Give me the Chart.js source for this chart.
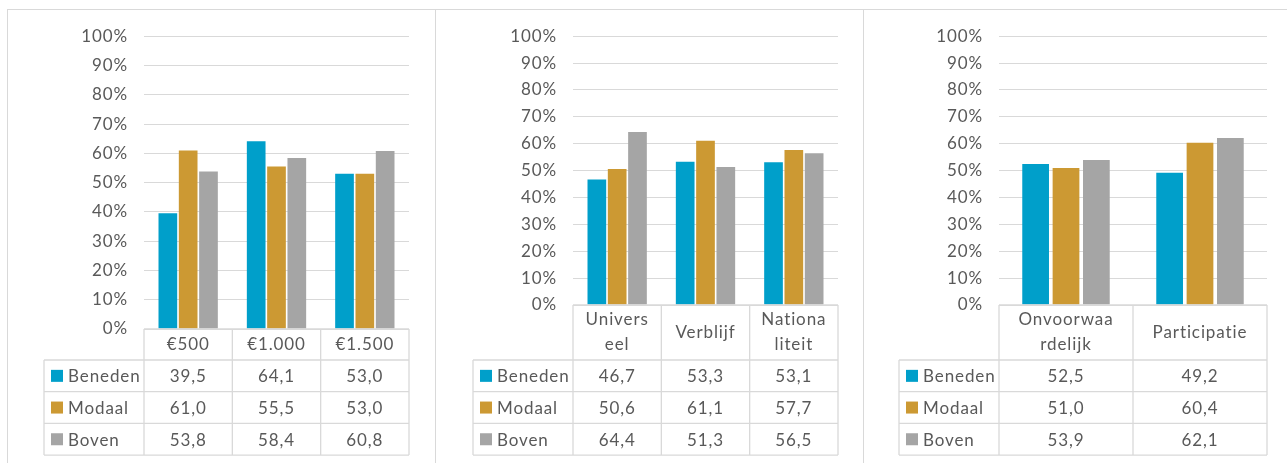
<!DOCTYPE html>
<html><head><meta charset="utf-8">
<script src="https://cdn.jsdelivr.net/npm/chart.js@4.4.1/dist/chart.umd.min.js"></script>
<style>
html,body{margin:0;padding:0;background:#fff;width:1287px;height:463px;overflow:hidden;}
.panel{position:absolute;top:9px;height:453px;border-left:1px solid #D9D9D9;border-top:1px solid #D9D9D9;}
canvas{display:block;}
</style></head><body>
<div class="panel" style="left:7px;width:428px"><canvas id="c1" width="428" height="453"></canvas></div>
<div class="panel" style="left:435px;width:428px"><canvas id="c2" width="428" height="453"></canvas></div>
<div class="panel" style="left:863px;width:424px;border-right:none"><canvas id="c3" width="423" height="453"></canvas></div>
<script>
// ---- data ----
const seriesNames = ['Beneden', 'Modaal', 'Boven'];
const seriesColors = ['#009FCA', '#CC9933', '#A5A5A5'];
const yTicks = [0, 10, 20, 30, 40, 50, 60, 70, 80, 90, 100];

const cats1 = ['€500', '€1.000', '€1.500'];
const beneden1 = [39.5, 64.1, 53.0];
const modaal1 = [61.0, 55.5, 53.0];
const boven1 = [53.8, 58.4, 60.8];

const cats2 = [['Univers', 'eel'], 'Verblijf', ['Nationa', 'liteit']];
const beneden2 = [46.7, 53.3, 53.1];
const modaal2 = [50.6, 61.1, 57.7];
const boven2 = [64.4, 51.3, 56.5];

const cats3 = [['Onvoorwaa', 'rdelijk'], 'Participatie'];
const beneden3 = [52.5, 49.2];
const modaal3 = [51.0, 60.4];
const boven3 = [53.9, 62.1];

// ---- styling ----
const FONT = 'Lato, "Open Sans", sans-serif';
const FS = 17;
const TXT = '#595959';
const LINE = '#D9D9D9';
const SPACING = '0.9px';

const spacingPlugin = {
  id: 'spacing',
  beforeDraw(chart) { chart.ctx.letterSpacing = SPACING; }
};

const tablePlugin = {
  id: 'dataTable',
  afterDraw(chart, args, opts) {
    const ctx = chart.ctx;
    const x = chart.scales.x;
    const ca = chart.chartArea;
    const n = chart.data.labels.length;
    const step = x.getPixelForValue(1) - x.getPixelForValue(0);
    const edges = [];
    for (let i = 0; i < n; i++) edges.push(x.getPixelForValue(i) - step / 2);
    edges.push(x.getPixelForValue(n - 1) + step / 2);
    const top = ca.bottom;
    const hdrBottom = opts.rowsTop;
    const rowH = opts.rowH;
    const legLeft = ca.left - opts.legendW;
    const nRows = chart.data.datasets.length;
    const bottom = hdrBottom + rowH * nRows;

    ctx.save();
    ctx.letterSpacing = SPACING;
    ctx.strokeStyle = LINE;
    ctx.lineWidth = 1.3;
    ctx.beginPath();
    ctx.moveTo(edges[0], top); ctx.lineTo(edges[n], top);
    ctx.moveTo(legLeft, hdrBottom); ctx.lineTo(edges[n], hdrBottom);
    for (let r = 1; r <= nRows; r++) {
      ctx.moveTo(legLeft, hdrBottom + rowH * r); ctx.lineTo(edges[n], hdrBottom + rowH * r);
    }
    ctx.moveTo(legLeft, hdrBottom); ctx.lineTo(legLeft, bottom);
    for (let i = 0; i <= n; i++) { ctx.moveTo(edges[i], top); ctx.lineTo(edges[i], bottom); }
    ctx.stroke();

    ctx.fillStyle = TXT;
    ctx.font = FS + 'px ' + FONT;
    ctx.textAlign = 'center';
    ctx.textBaseline = 'middle';
    chart.data.labels.forEach((lab, i) => {
      const lines = Array.isArray(lab) ? lab : [lab];
      const cx = (edges[i] + edges[i + 1]) / 2;
      const cy = (top + hdrBottom) / 2;
      const lh = 25;
      lines.forEach((ln, k) => {
        ctx.fillText(ln, cx, cy + (k - (lines.length - 1) / 2) * lh);
      });
    });
    chart.data.datasets.forEach((ds, r) => {
      const cy = hdrBottom + rowH * r + rowH / 2;
      ctx.fillStyle = ds.backgroundColor;
      ctx.fillRect(legLeft + 7, cy - 6, 12, 12);
      ctx.fillStyle = TXT;
      ctx.textAlign = 'left';
      ctx.fillText(ds.label, legLeft + 24, cy + 1);
      ctx.textAlign = 'center';
      ds.data.forEach((v, i) => {
        const cx = (edges[i] + edges[i + 1]) / 2;
        ctx.fillText(v.toFixed(1).replace('.', ','), cx, cy + 1);
      });
    });
    ctx.restore();
  }
};

function makeChart(id, cats, vals, cfg) {
  return new Chart(document.getElementById(id), {
    type: 'bar',
    data: {
      labels: cats,
      datasets: vals.map((d, k) => ({
        label: seriesNames[k],
        data: d,
        backgroundColor: seriesColors[k],
        borderWidth: 0,
        barPercentage: cfg.barPct,
        categoryPercentage: cfg.catPct
      }))
    },
    options: {
      responsive: false,
      animation: false,
      layout: { padding: { top: 23.5, right: cfg.right, bottom: cfg.bottom, left: 0 } },
      plugins: {
        legend: { display: false },
        tooltip: { enabled: false },
        dataTable: { rowsTop: 350, rowH: 31.7, legendW: 100 }
      },
      scales: {
        x: { display: false },
        y: {
          min: 0, max: 100,
          afterBuildTicks: (s) => { s.ticks = yTicks.map(v => ({ value: v })); },
          afterFit: (s) => { s.width = cfg.left; },
          border: { display: false },
          grid: { color: LINE, lineWidth: 1, drawTicks: false },
          ticks: {
            padding: 16,
            color: TXT,
            font: { family: FONT, size: FS },
            callback: (v) => v + '%'
          }
        }
      }
    },
    plugins: [spacingPlugin, tablePlugin]
  });
}

makeChart('c1', cats1, [beneden1, modaal1, boven1], { left: 136, right: 27, bottom: 134, barPct: 0.92, catPct: 0.69 });
makeChart('c2', cats2, [beneden2, modaal2, boven2], { left: 137, right: 26, bottom: 158, barPct: 0.92, catPct: 0.69 });
makeChart('c3', cats3, [beneden3, modaal3, boven3], { left: 135, right: 20, bottom: 158, barPct: 0.88, catPct: 0.68 });
</script>
</body></html>
